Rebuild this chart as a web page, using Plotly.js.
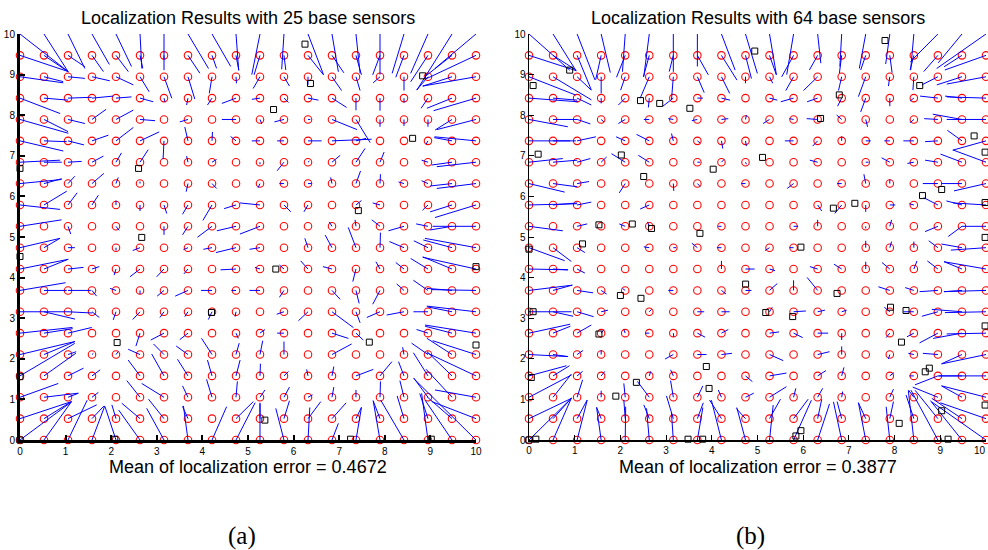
<!DOCTYPE html>
<html>
<head>
<meta charset="utf-8">
<script src="https://cdn.plot.ly/plotly-3.0.1.min.js"></script>
<style>html,body{margin:0;padding:0;background:#fff;}#plot{width:988px;height:550px;}</style>
</head>
<body>
<div id="plot"></div>
<script>
// grid positions (true sensor locations) on both axes
const GRID = [0,0.526,1.053,1.579,2.105,2.632,3.158,3.684,4.211,4.737,5.263,5.789,6.316,6.842,7.368,7.895,8.421,8.947,9.474,10];
const TICKS = [0,1,2,3,4,5,6,7,8,9,10];

// Panel (a): estimated-minus-true offsets, rows bottom (y=0) to top (y=10), columns x=0..10
const DXA = [
 [1.13,0.6,0.42,0.28,-0.24,-0.47,-0.38,-0.1,0.32,0.42, 0,-0.18,0.04,0.14,0.12,-0.15,-0.51,-0.14,-0.59,-1.37],
 [1.13,0.6,0.63,0.26,-0.09,-0.4,-0.34,-0.12,0,0.38, 0,0.12,0.28,0.31,0.12,-0.15,-0.15,-0.18,-0.55,-0.97],
 [0.84,0.75,0.23,0.14,0,-0.29,-0.49,-0.12,-0.12,0.03, 0.11,0.12,0.1,0.04,0,0.01,-0.09,-0.31,-0.57,-0.9],
 [1.2,0.7,0.34,0.18,0,-0.26,-0.27,-0.23,-0.1,0.09, 0.01,0.1,-0.03,0.04,0.38,0.26,-0.12,-0.32,-0.55,-1.08],
 [1.2,0.68,0.18,0.03,0.05,-0.26,-0.23,-0.26,-0.23,0.07, 0.06,0,0,0.43,0,0,-0.03,-0.36,-0.55,-0.95],
 [1.15,0.63,0.52,0,0,-0.09,-0.29,-0.18,0,0.05, 0.11,-0.15,0,0.36,0.16,0,0,-0.25,-0.59,-1.12],
 [1.06,0.68,0.53,0.16,-0.06,-0.16,-0.09,-0.07,-0.08,-0.02, 0,-0.16,-0.21,0.47,0.09,-0.29,-0.38,-0.32,-0.54,-1.08],
 [1.0,0.5,0.5,0.1,-0.13,0,-0.15,-0.28,-0.24,-0.1, -0.23,-0.1,0,0.18,0.07,-0.16,-0.16,-0.32,-0.55,-0.97],
 [1.06,0.53,0.34,0.16,-0.04,-0.22,-0.16,-0.09,0,-0.34, -0.11,-0.1,-0.16,-0.2,-0.07,-0.09,-0.18,-0.38,-0.64,-1.17],
 [0.88,0.35,0.15,0,0,-0.16,0,-0.1,-0.19,-0.44, -0.23,0,-0.07,-0.15,-0.17,0.01,-0.32,-0.31,-0.63,-1.12],
 [0.91,0,0.06,0,0.07,0,0,-0.12,-0.32,-0.42, -0.44,0,0,-0.06,-0.02,-0.18,-0.34,-0.26,-0.48,-0.95],
 [0.88,0.5,0.2,0.14,0,0,0.06,-0.12,-0.2,-0.26, -0.44,0.15,-0.09,0,0.12,-0.16,0,-0.12,-0.48,-0.9],
 [0.91,0.39,0.15,0.26,0.05,0,0,-0.04,0.1,0, -0.04,-0.1,0.08,-0.03,0.1,0.01,-0.12,-0.14,-0.48,-0.86],
 [0.88,0.39,0.3,0.25,0.12,0.18,0,-0.03,0.1,0, 0,-0.15,0.03,0.18,0.2,0.09,0,-0.14,-0.45,-0.86],
 [0.95,0.5,0.35,0.36,0.38,0.42,-0.02,-0.07,0.01,-0.12, -0.18,-0.15,0.3,0.87,0.22,0,0,-0.04,-0.39,-0.91],
 [1.06,0.53,0.37,0.31,0.38,0.33,0,-0.18,0,-0.31, 0.04,-0.21,0.05,0.55,0.31,0,0,0,-0.37,-0.86],
 [0.88,0.53,0.52,0.47,0.34,0.29,0.02,-0.03,-0.1,-0.31, -0.18,0.1,0.23,0.32,0,0,0,-0.15,-0.55,-0.93],
 [0.95,0.42,0.37,0.39,0.38,0.2,0.17,0.15,-0.06,0.01, -0.15,0.12,0,0.21,0.09,-0.15,0,-0.25,-0.64,-1.17],
 [1.06,0.5,0.37,0.25,0.27,0.06,0,0.26,0.1,0.06, -0.13,0.04,0.34,0.26,0.12,-0.16,-0.18,-0.38,-0.59,-1.08],
 [1.06,0.53,0.37,0.38,0.34,0.04,0,0.45,0.41,0.06, -0.18,-0.05,0.34,0.14,0.09,0,-0.26,-0.38,-0.77,-0.9]
];
const DYA = [
 [0.94,0.94,0.98,0.84,0.82,0.74,0.78,0.84,0.82,0.92, 0.9,0.78,0.8,0.41,0.8,0.97,0.98,1.15,0.98,1.52],
 [0.42,0.42,0.34,0.31,0.34,0.38,0.48,0.3,0,0.42, 0.39,0.44,0.42,0.39,0.28,0.44,0.56,0.62,0.54,0.42],
 [0.34,0.1,0.1,0.12,0,0.41,0.34,0.28,0.44,0.39, 0.18,0.25,0.06,0.25,0.18,0.39,0.41,0.47,0.69,0.18],
 [0.8,0.56,0.19,0.15,0,0.39,0.54,0.41,0.39,0.39, 0.3,0.11,0.16,0.23,0.16,0.35,0.35,0.57,0.6,0.57],
 [0.32,0.32,0.07,0.03,0.07,0.13,0.26,0.21,0.4,0.28, 0.34,0.32,0,0.26,0,0,0.18,0.28,0.4,0.34],
 [0.14,0.11,0.14,0,0,-0.32,-0.17,-0.16,0,-0.13, 0.09,0,0,-0.13,-0.17,0,0,0.09,0.17,0.2],
 [0,-0.18,-0.03,-0.14,-0.2,-0.19,-0.14,-0.12,-0.19,-0.12, 0,-0.06,-0.22,-0.39,-0.27,-0.14,-0.08,0,0.12,0.14],
 [0.19,0,0,-0.14,0.05,-0.09,-0.14,-0.14,0,0, 0,-0.17,0,-0.22,-0.32,-0.34,0.16,0.25,0.05,0.02],
 [0.24,0.24,0.04,0.06,-0.15,-0.19,-0.19,-0.12,0,-0.02, 0.04,0.1,0.2,0.06,-0.31,0.18,0.16,0.26,0.3,0.29],
 [0.23,0.23,0,0,-0.07,-0.07,0,-0.05,-0.04,-0.12, -0.04,0,0.23,0.31,0.5,0.37,0.15,0.17,0.19,0.23],
 [0.16,0,-0.19,0,-0.1,0,-0.21,-0.21,-0.27,-0.11, -0.19,0,0,0.11,0.16,0.16,-0.11,0.06,-0.09,0],
 [-0.11,0.34,0.3,0.24,0.11,-0.15,-0.21,-0.23,-0.38,-0.09, 0.05,-0.17,-0.17,0,0.11,0.05,0,-0.13,-0.17,-0.31],
 [0.1,0.12,0.18,0.25,0.15,0.05,0,-0.2,-0.12,0, -0.1,0,0,0.15,0.31,0.23,0.04,0.07,-0.06,-0.12],
 [0.05,0,0.02,0.15,0.23,0.31,0,0.15,0.07,0, -0.05,-0.21,0.03,0.17,0.34,0.25,0,0.05,-0.07,-0.11],
 [-0.25,-0.02,-0.1,0.14,0.33,0.22,-0.45,0.34,0.22,0.11, 0,0,0,0.04,0.06,0,0,-0.08,0.08,0.1],
 [-0.34,-0.3,-0.1,0.25,0.23,-0.03,0,-0.06,0,0, -0.11,-0.06,0,-0.25,-0.57,-0.18,-0.16,-0.18,-0.26,-0.25],
 [-0.38,-0.05,0.02,0.05,0.03,-0.09,-0.09,-0.17,-0.17,-0.13, -0.03,-0.11,-0.05,-0.23,-0.3,-0.31,-0.11,-0.25,-0.25,-0.31],
 [-0.15,-0.12,-0.04,-0.1,-0.2,-0.37,-0.53,-0.55,-0.41,-0.16, -0.29,-0.23,-0.2,-0.34,-0.34,-0.15,-0.34,-0.33,-0.23,-0.23],
 [-0.4,-0.38,-0.28,-0.4,-0.4,-0.32,-0.1,-0.44,-0.32,-0.36, -0.48,-0.36,-0.48,-0.43,-0.48,-0.48,-0.54,-0.65,-0.52,-0.57],
 [-0.93,-0.93,-0.85,-0.75,-0.8,-0.85,-0.89,-0.85,-0.8,-0.9, -1.0,-0.87,-1.0,-0.93,-0.97,-1.0,-0.97,-0.97,-1.38,-0.85]
];

// Panel (b)
const DXB = [
 [0.93,0.4,0.22,-0.1,0.01,-0.06,-0.04,0.12,-0.22,-0.19, 0.08,0.39,0.26,-0.18,-0.16,-0.08,-0.12,-0.59,-0.69,-1.19],
 [0.93,0.4,0.22,-0.1,-0.03,-0.12,-0.15,0.13,-0.26,-0.2, 0.24,0.32,0.09,-0.1,-0.16,0.08,-0.17,-0.5,-0.66,-1.0],
 [0.93,0.4,0.12,0,-0.03,-0.26,-0.06,0.12,-0.07,0.18, 0.37,0.05,0.11,0.02,0,0.08,-0.12,-0.55,-0.45,-0.97],
 [0.82,0.36,0.12,0.08,0,0.03,-0.06,0,0,0.15, 0.37,0,0.18,0.05,0,0.09,-0.1,-0.5,-0.52,-1.04],
 [0.85,0.33,0.13,0,0,0,-0.18,0.2,0.23,0, 0.3,0,0.26,0,0,-0.03,-0.12,-0.33,-0.45,-0.97],
 [0.9,0.38,0.31,0.06,-0.03,-0.09,0.01,0.17,0.15,0, 0.21,0.2,0.23,0,0,-0.08,-0.15,-0.4,-0.63,-0.86],
 [0.93,0.44,0.36,0.15,0,0.05,0,0.15,0.18,0, 0.06,0.27,0.16,0.11,0,-0.12,-0.23,-0.35,-0.66,-0.9],
 [0.95,0.42,0.35,0.12,-0.06,0,-0.11,0,0.1,0.13, 0.17,0,-0.23,0,0,-0.25,-0.19,-0.4,-0.39,-0.92],
 [0.85,0.33,0.17,0,0,0,0,0,0,0.2, 0.12,0,-0.17,-0.17,0,-0.17,0.07,-0.23,-0.39,-0.92],
 [0.78,0.4,0.17,0,0,-0.12,0.06,-0.12,-0.1,0, -0.1,-0.09,0,0,0,0.04,0,-0.2,-0.45,-0.77],
 [0.74,0,0.22,0,-0.13,-0.04,0,0,-0.07,0, 0,0.1,0,0,0,0.04,0,-0.28,-0.3,-0.53],
 [1.05,0.53,0.31,0,0,-0.2,0,0,0,0, 0,0,0.09,-0.15,0,0.12,-0.1,-0.31,-0.34,-0.72],
 [0.78,0.53,0.26,0,-0.13,0,0.01,0.06,0,-0.09, 0,-0.14,0,-0.1,-0.04,0,0,-0.33,-0.45,-0.7],
 [0.74,0.53,0.29,0.12,-0.3,-0.24,0,0.06,0.06,0.02, 0,0,-0.17,0,0.06,-0.18,-0.14,-0.28,-0.47,-0.72],
 [0.9,0.5,0.41,0,-0.2,-0.28,-0.04,0.06,0.03,0.02, 0,-0.19,-0.11,0,0.11,-0.12,-0.23,-0.28,-0.32,-0.73],
 [0.85,0.53,0.29,0.06,-0.15,-0.12,-0.11,-0.12,0.15,0.02, -0.14,-0.09,-0.24,-0.11,0.04,0,-0.08,-0.3,-0.64,-0.86],
 [1.07,0.53,0.31,0,-0.15,-0.02,-0.23,0.12,0.19,0, 0.17,-0.28,-0.23,-0.09,-0.11,0,-0.08,-0.39,-0.37,-0.86],
 [1.02,0.84,0.31,0,-0.1,-0.2,-0.04,0.15,0.18,0, 0.07,-0.17,-0.31,-0.07,-0.16,-0.03,-0.02,-0.35,-0.55,-0.86],
 [1.04,0.5,0.31,-0.12,-0.19,-0.13,-0.09,0.24,0.34,0.13, 0.15,-0.26,-0.18,-0.05,-0.11,0.05,-0.08,-0.31,-0.39,-0.9],
 [0.89,0.5,0.39,0.2,-0.06,-0.12,0,0,0.3,0.26, 0.15,-0.15,0.07,-0.04,-0.14,-0.09,-0.07,-0.6,-0.52,-1.08]
];
const DYB = [
 [1.03,1.03,0.98,0.8,0.82,0.78,0.66,0.8,0.98,0.8, 0.86,0.98,0.89,0.94,0.92,0.82,1.21,1.23,0.97,0.94],
 [0.5,0.5,0.46,0.28,0.46,0.34,0.56,0.39,0.46,0.25, 0.48,0.48,0.48,0.42,0.39,0.42,0.58,0.7,0.5,0.39],
 [0.55,0.57,0.43,0.16,0.34,0.39,0.41,0.28,0.18,0.1, 0.26,0.22,0.22,0.14,0,0.2,0.18,0.25,0.28,0.28],
 [0.25,0.25,0.11,0.11,0,0.11,0.15,0,0,-0.14, 0.07,0,0.13,0.21,0,0.08,0,-0.22,0,0],
 [-0.05,-0.05,0.1,0.11,0,0,-0.11,0,0.03,0, -0.15,0,0.07,0.2,0,-0.11,0.03,0.03,-0.23,-0.23],
 [0.22,0.17,0.2,0.09,0.09,0,-0.09,-0.1,0.09,0, 0.03,-0.11,0,-0.17,0,-0.11,-0.09,-0.24,-0.13,-0.02],
 [0,-0.11,-0.12,0.04,0,0.06,0,0,0,0, 0.11,0.02,0.04,0.04,0,0.11,0,-0.11,0.06,-0.02],
 [0.13,0.13,-0.06,-0.09,0.05,0,0,0,-0.09,0, 0.17,0.25,0.32,0,0,0.09,0.07,-0.03,-0.03,-0.03],
 [-0.02,-0.02,-0.1,0,0,0,0,0,0.2,0, -0.04,0,0.06,0.12,0.18,0.16,0.2,0.2,0.18,0.18],
 [-0.32,-0.34,-0.12,0,0,0.02,0,0.11,0,0, -0.07,0,0,0,0.17,0.15,0.15,0.17,0.09,-0.06],
 [-0.11,0,0.06,0,0.06,0.11,0,0,0,0, 0,0,0.16,0,-0.05,0.16,0,-0.13,-0.25,0],
 [0.03,0.05,0.07,0,0,-0.1,0,0,0,0, 0,0,-0.15,-0.21,-0.17,0,0.03,0.18,0.1,0.05],
 [-0.21,-0.08,0.05,0,-0.23,0,-0.18,-0.07,0,0, 0,-0.12,0,0,0.23,0.1,0,0,0,-0.18],
 [0.09,0.05,0.09,0.13,0.21,0.17,0,0,0.07,-0.05, 0,0,0.05,0,0,0.11,-0.03,0.05,0.2,0.3],
 [0,0,0.1,0,0.1,0.16,0.18,-0.05,-0.19,-0.13, 0,0,-0.13,0.11,0,0,0,-0.02,0.26,-0.23],
 [-0.18,0,-0.11,-0.06,-0.1,0,0.02,-0.03,0.02,0.11, -0.1,0.02,0.02,0.11,-0.18,0,-0.08,0.02,0.13,0],
 [-0.09,-0.05,-0.17,-0.13,-0.17,-0.23,-0.2,0,-0.05,0, -0.05,-0.09,-0.09,-0.2,-0.34,-0.2,-0.07,0.05,0.05,0.03],
 [-0.45,-0.57,-0.33,-0.41,-0.33,-0.53,-0.57,-0.39,-0.41,-0.16, -0.16,-0.34,-0.34,-0.34,-0.49,-0.23,-0.33,-0.2,-0.2,-0.18],
 [-0.38,-0.36,-0.85,-0.6,-0.54,-0.53,-0.4,-0.48,-0.61,-0.57, -0.48,-0.53,-0.36,-0.44,-0.36,-0.43,-0.36,-0.4,-0.28,-0.36],
 [-0.89,-0.9,-1.13,-0.95,-0.93,-1.05,-0.93,-0.8,-0.89,-0.97, -1.0,-1.0,-0.72,-0.8,-0.85,-0.74,-0.89,-0.68,-0.71,-0.85]
];

// base sensors
const SXA = [0,2.6,6.25,6.37,5.56,8.83,8.61,7.42,0,2.67,4.2,2.13,0,0,2.08,5.61,10,7.66,10,5.37,7.25,9.02];
const SYA = [6.69,6.69,9.75,8.78,8.14,8.97,7.43,5.65,4.52,4.99,3.14,2.4,1.56,0,0.02,4.21,4.27,2.41,2.34,0.49,0.02,0.02];
const SXB = [0.89,0.09,2.44,2.86,3.52,0.2,2.02,2.51,4.03,4.94,7.79,8.55,6.79,6.38,9.74,9.98,5.11,9.03,8.61,9.98,6.66,7.13,
  1.53,2.26,2.68,3.74,1.17,0,2.0,2.45,4.74,0.09,1.53,0.05,3.88,2.35,3.94,1.9,0,0.15,3.48,3.8,
  5.95,9.98,6.74,5.18,5.77,7.91,8.25,9.98,8.15,8.67,8.76,9.98,9.03,8.1,5.95,5.84,9.17];
const SYB = [9.11,8.73,8.36,8.29,8.17,7.04,7.02,6.49,6.67,9.58,9.84,8.73,8.5,7.92,7.49,7.09,6.96,6.17,6.02,5.85,5.71,5.83,
  5.3,5.32,5.21,5.09,4.83,4.7,3.56,3.49,3.84,3.16,2.61,1.54,1.81,1.42,1.27,1.08,0,0.02,0.02,0.02,
  4.75,4.99,3.61,3.14,3.04,3.27,3.19,2.81,2.41,1.68,1.77,0.86,0.72,0.41,0.23,0.1,0.02];

const TITLE_A = 'Localization Results with 25 base sensors';
const TITLE_B = 'Localization Results with 64 base sensors';
const ERR_A = 'Mean of localization error = 0.4672';
const ERR_B = 'Mean of localization error = 0.3877';

function panel(DX, DY, SX, SY, xa, ya) {
  const lx = [], ly = [], cx = [], cy = [];
  for (let j = 0; j < GRID.length; j++) {
    for (let i = 0; i < GRID.length; i++) {
      const x0 = GRID[i], y0 = GRID[j];
      lx.push(x0, x0 + DX[j][i], null);
      ly.push(y0, y0 + DY[j][i], null);
      if (j < GRID.length - 1) { cx.push(x0); cy.push(y0); }
    }
  }
  return [
    {x: cx, y: cy, xaxis: xa, yaxis: ya, type: 'scatter', mode: 'markers', cliponaxis: false,
     marker: {symbol: 'circle-open', size: 7.5, color: '#ff0000', line: {width: 1.1, color: '#ff0000'}}, hoverinfo: 'skip'},
    {x: lx, y: ly, xaxis: xa, yaxis: ya, type: 'scatter', mode: 'lines', connectgaps: false,
     line: {color: '#0000ff', width: 1}, hoverinfo: 'skip'},
    {x: SX, y: SY, xaxis: xa, yaxis: ya, type: 'scatter', mode: 'markers', cliponaxis: false,
     marker: {symbol: 'square-open', size: 6, color: '#000000', line: {width: 1, color: '#000000'}}, hoverinfo: 'skip'}
  ];
}

const data = [].concat(panel(DXA, DYA, SXA, SYA, 'x', 'y'), panel(DXB, DYB, SXB, SYB, 'x2', 'y2'));

function ax(domain, anchor, lw, tw) {
  return {domain: domain, anchor: anchor, range: [0, 10], showline: true, linewidth: lw, linecolor: '#000',
    ticks: 'inside', ticklen: 5, tickwidth: tw, tickcolor: '#000', tickmode: 'array', tickvals: TICKS,
    ticktext: TICKS.map(String), showgrid: false, zeroline: false, mirror: false, fixedrange: true,
    tickfont: {family: 'Liberation Sans, Arial, sans-serif', size: 10, color: '#000'}};
}

const FONT = 'Liberation Sans, Arial, Helvetica, sans-serif';
const SERIF = 'Liberation Serif, DejaVu Serif, serif';
function note(text, px, py, font, size) {
  return {text: text, x: px/988, y: 1 - py/550, xref: 'paper', yref: 'paper', showarrow: false,
    xanchor: 'center', yanchor: 'middle', font: {family: font, size: size, color: '#000'}};
}
const layout = {
  width: 988, height: 550, margin: {l: 0, r: 0, t: 0, b: 0},
  paper_bgcolor: '#fff', plot_bgcolor: '#fff', showlegend: false,
  xaxis: ax([0.02024, 0.48178], 'y', 3, 2),
  yaxis: ax([0.2, 0.93818], 'x', 3, 2),
  xaxis2: ax([0.53543, 0.99798], 'y2', 1.5, 1),
  yaxis2: ax([0.2, 0.93818], 'x2', 1.5, 1),
  annotations: [
    note(TITLE_A, 248, 18, FONT, 18),
    note(TITLE_B, 758, 18, FONT, 18),
    note(ERR_A, 248, 467, FONT, 18),
    note(ERR_B, 758, 467, FONT, 18),
    note('(a)', 242, 536, SERIF, 25),
    note('(b)', 750, 536, SERIF, 25),
    // last x tick label of panel (b), which sits on the page edge: kept inside the page
    {text: String(TICKS[TICKS.length - 1]), x: 1, y: 0, xref: 'paper', yref: 'paper', yshift: 550*0.2 - 10,
     showarrow: false, xanchor: 'right', yanchor: 'middle', font: {family: FONT, size: 10, color: '#000'}}
  ]
};

Plotly.newPlot('plot', data, layout, {displayModeBar: false, staticPlot: true});
</script>
</body>
</html>
